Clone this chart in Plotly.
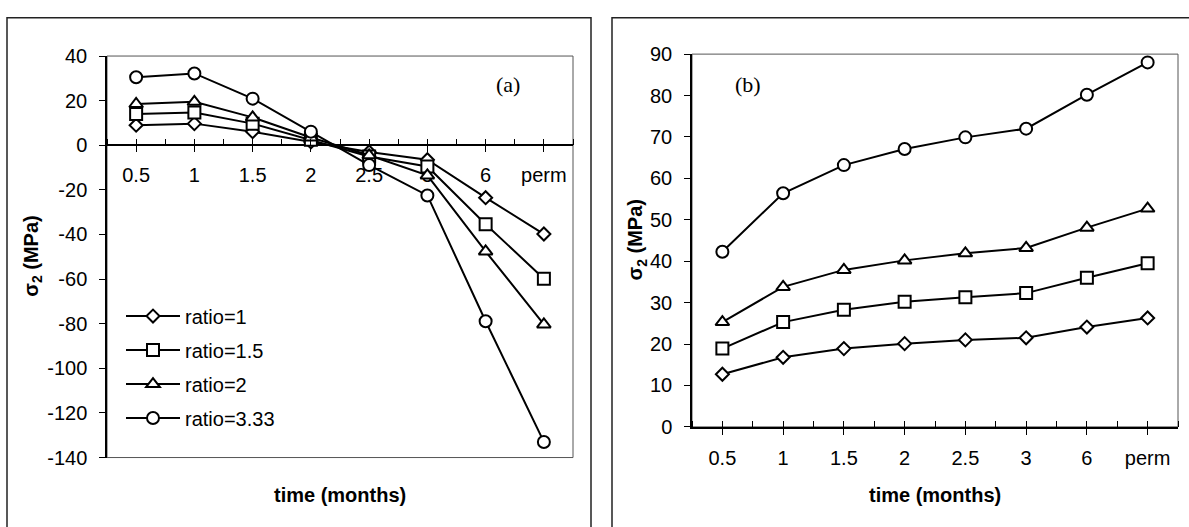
import plotly.graph_objects as go

W, H = 1189, 527

categories = ["0.5", "1", "1.5", "2", "2.5", "3", "6", "perm"]
series_names = ["ratio=1", "ratio=1.5", "ratio=2", "ratio=3.33"]

# panel (a)
a_ratio1 = [9.0, 9.7, 6.1, 1.5, -3.0, -6.5, -23.5, -39.8]
a_ratio15 = [14.0, 14.7, 9.7, 2.5, -5.0, -9.5, -35.4, -59.8]
a_ratio2 = [18.5, 19.5, 12.5, 3.5, -4.5, -13.5, -47.6, -80.3]
a_ratio333 = [30.5, 32.2, 20.9, 6.1, -8.9, -22.5, -78.9, -133.0]

# panel (b)
b_ratio1 = [12.7, 16.8, 18.9, 20.1, 21.0, 21.5, 24.1, 26.3]
b_ratio15 = [18.9, 25.3, 28.3, 30.2, 31.3, 32.3, 36.0, 39.5]
b_ratio2 = [25.3, 33.8, 37.9, 40.2, 41.9, 43.2, 48.1, 52.7]
b_ratio333 = [42.3, 56.4, 63.2, 67.1, 69.9, 72.0, 80.2, 88.0]

ya_ticks = [-140, -120, -100, -80, -60, -40, -20, 0, 20, 40]
yb_ticks = [0, 10, 20, 30, 40, 50, 60, 70, 80, 90]

symbols = ["diamond", "square", "triangle-up", "circle"]
sizes = [10, 12, 12, 12]

FONT = "Liberation Sans, Arial, sans-serif"
FS = 20
TICKFONT = dict(family=FONT, size=FS, color="black")

xidx = list(range(len(categories)))

fig = go.Figure()

a_series = [a_ratio1, a_ratio15, a_ratio2, a_ratio333]
b_series = [b_ratio1, b_ratio15, b_ratio2, b_ratio333]

for i, (name, ys) in enumerate(zip(series_names, a_series)):
    fig.add_trace(go.Scatter(
        x=xidx, y=ys, name=name, mode="lines+markers",
        xaxis="x", yaxis="y", legendgroup=name,
        line=dict(color="black", width=2),
        marker=dict(symbol=symbols[i], size=sizes[i], color="white",
                    line=dict(color="black", width=2)),
        cliponaxis=False,
    ))
for i, (name, ys) in enumerate(zip(series_names, b_series)):
    fig.add_trace(go.Scatter(
        x=xidx, y=ys, name=name, mode="lines+markers",
        xaxis="x2", yaxis="y2", showlegend=False,
        line=dict(color="black", width=2),
        marker=dict(symbol=symbols[i], size=sizes[i], color="white",
                    line=dict(color="black", width=2)),
        cliponaxis=False,
    ))

# domains (pixel based)
ax0, ax1 = 107 / W, 573 / W
ay0, ay1 = (H - 466) / H, (H - 47) / H
bx0, bx1 = 692 / W, 1178 / W
by0, by1 = (H - 434) / H, (H - 45) / H

ya_range = [-140, 40]
yb_range = [0, 90]
zero_pos = ay0 + (0 - ya_range[0]) / (ya_range[1] - ya_range[0]) * (ay1 - ay0)

xr = [-0.5, len(categories) - 0.5]

common_x = dict(
    range=xr, tickmode="array", tickvals=xidx, ticktext=categories,
    showgrid=False, zeroline=False, showline=True, linecolor="black",
    linewidth=1.5, ticks="outside", ticklen=6, tickwidth=1.2,
    tickcolor="black", tickfont=TICKFONT, layer="below traces",
    ticklabelstandoff=6,
    minor=dict(ticks="inside", ticklen=6, tick0=0.5, dtick=1,
               tickcolor="black", tickwidth=1.2),
)
common_y = dict(
    showgrid=False, zeroline=False, showline=True, linecolor="black",
    linewidth=1.5, ticks="outside", ticklen=6, tickwidth=1.2,
    tickcolor="black", tickfont=TICKFONT, ticklabelstandoff=8,
    tickmode="array",
)
inner_x = dict(range=xr, tickmode="array", tickvals=xidx, showticklabels=False,
               showgrid=False, zeroline=False, showline=False, ticks="inside",
               ticklen=6, tickwidth=1.2, tickcolor="black")

fig.update_layout(
    width=W, height=H,
    margin=dict(l=0, r=0, t=0, b=0),
    paper_bgcolor="white", plot_bgcolor="white",
    font=dict(family=FONT, color="black"),
    xaxis=dict(domain=[ax0, ax1], anchor="free", position=zero_pos, **common_x),
    yaxis=dict(domain=[ay0, ay1], anchor="x", range=ya_range,
               tickvals=ya_ticks, ticktext=[str(v) for v in ya_ticks], **common_y),
    xaxis2=dict(domain=[bx0, bx1], anchor="y2", **common_x),
    yaxis2=dict(domain=[by0, by1], anchor="x2", range=yb_range,
                tickvals=yb_ticks, ticktext=[str(v) for v in yb_ticks], **common_y),
    xaxis3=dict(overlaying="x", anchor="free", position=zero_pos, **inner_x),
    xaxis4=dict(overlaying="x2", anchor="y2", **inner_x),
    showlegend=True,
    legend=dict(x=121 / W, y=(H - 298) / H, xanchor="left", yanchor="top",
                font=dict(family=FONT, size=FS, color="black"),
                bgcolor="rgba(0,0,0,0)", itemwidth=54, tracegroupgap=5,
                traceorder="grouped"),
)

# invisible traces so the overlay tick axes render
fig.add_trace(go.Scatter(x=[xidx[0]], y=[ya_range[0]], xaxis="x3", yaxis="y",
                         mode="markers", marker=dict(opacity=0), showlegend=False,
                         hoverinfo="skip"))
fig.add_trace(go.Scatter(x=[xidx[0]], y=[yb_range[0]], xaxis="x4", yaxis="y2",
                         mode="markers", marker=dict(opacity=0), showlegend=False,
                         hoverinfo="skip"))

shapes = [
    dict(type="rect", xref="x domain", yref="y domain", x0=0, x1=1, y0=0, y1=1,
         line=dict(color="#555555", width=1), layer="below"),
    dict(type="rect", xref="x2 domain", yref="y2 domain", x0=0, x1=1, y0=0, y1=1,
         line=dict(color="#555555", width=1), layer="below"),
    dict(type="rect", xref="paper", yref="paper", x0=7 / W, x1=591 / W,
         y0=-0.05, y1=(H - 7) / H, line=dict(color="#222222", width=1.5)),
    dict(type="rect", xref="paper", yref="paper", x0=612 / W, x1=1.05,
         y0=-0.05, y1=(H - 7) / H, line=dict(color="#222222", width=1.5)),
]
fig.update_layout(shapes=shapes)

SERIF = "Liberation Serif, Times New Roman, serif"
C = dict(xref="paper", yref="paper", showarrow=False,
         xanchor="center", yanchor="middle")
ann = [
    dict(text="(a)", x=508 / W, y=(H - 77) / H,
         font=dict(family=SERIF, size=22, color="black"), **C),
    dict(text="(b)", x=748 / W, y=(H - 77) / H,
         font=dict(family=SERIF, size=22, color="black"), **C),
    dict(text="<b>time (months)</b>", x=(ax0 + ax1) / 2, y=(H - 505) / H,
         font=dict(family=FONT, size=FS, color="black"), **C),
    dict(text="<b>time (months)</b>", x=(bx0 + bx1) / 2, y=(H - 505) / H,
         font=dict(family=FONT, size=FS, color="black"), **C),
    dict(text="<b>σ<sub>2</sub> (MPa)</b>", x=33 / W, y=(ay0 + ay1) / 2,
         textangle=-90, font=dict(family=FONT, size=FS, color="black"), **C),
    dict(text="<b>σ<sub>2</sub> (MPa)</b>", x=637 / W, y=(by0 + by1) / 2,
         textangle=-90, font=dict(family=FONT, size=FS, color="black"), **C),
]
fig.update_layout(annotations=ann)

fig.write_html("out.html")
